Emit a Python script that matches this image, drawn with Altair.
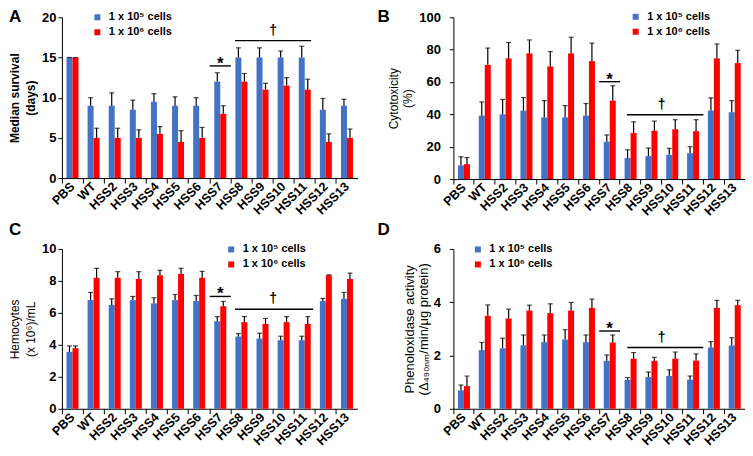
import altair as alt
import pandas as pd

categories = ["PBS", "WT", "HSS2", "HSS3", "HSS4", "HSS5", "HSS6", "HSS7",
              "HSS8", "HSS9", "HSS10", "HSS11", "HSS12", "HSS13"]
series = ["1 x 10⁵ cells", "1 x 10⁶ cells"]
colors = ["#4472C4", "#FF0000"]

# Panel A: median survival (days)
surv_low = [15, 9, 9, 8.5, 9.5, 9, 9, 12, 15, 15, 15, 15, 8.5, 9]
surv_low_sd = [0, 1.0, 1.6, 1.2, 1.0, 1.1, 1.0, 1.1, 1.2, 1.2, 0.8, 1.4, 1.4, 0.8]
surv_high = [15, 5, 5, 5, 5.5, 4.5, 5, 8, 12, 11, 11.5, 11, 4.5, 5]
surv_high_sd = [0, 1.2, 1.2, 1.0, 0.9, 1.4, 1.3, 1.0, 1.0, 0.8, 1.0, 1.3, 1.0, 1.1]

# Panel B: cytotoxicity (%)
cyto_low = [8.5, 39.2, 40, 42.3, 38.1, 38.1, 39.2, 23.1, 13.1, 14.2, 15, 16, 42.3, 41.3]
cyto_low_sd = [5.3, 8.5, 9.2, 8.1, 10.4, 7.3, 7.5, 4.2, 5.0, 5.0, 4.0, 4.0, 7.9, 7.2]
cyto_high = [9.2, 70.6, 74.6, 77.7, 69.6, 77.7, 72.9, 48.5, 28.5, 29.8, 30.8, 29.6, 74.6, 71.7]
cyto_high_sd = [4.1, 10.4, 9.8, 8.3, 9.2, 10.0, 11.1, 9.2, 6.9, 6.0, 5.9, 7.1, 8.9, 7.9]

# Panel C: hemocytes
hemo_low = [3.56, 6.8, 6.5, 6.8, 6.59, 6.8, 6.74, 5.48, 4.52, 4.39, 4.29, 4.29, 6.74, 6.88]
hemo_low_sd = [0.37, 0.48, 0.38, 0.23, 0.36, 0.35, 0.35, 0.29, 0.19, 0.34, 0.25, 0.25, 0.16, 0.40]
hemo_high = [3.79, 8.2, 8.2, 8.12, 8.35, 8.43, 8.2, 6.42, 5.42, 5.31, 5.42, 5.31, 8.35, 8.12]
hemo_high_sd = [0.14, 0.59, 0.38, 0.46, 0.31, 0.36, 0.40, 0.30, 0.35, 0.34, 0.35, 0.46, 0.03, 0.37]

# Panel D: phenoloxidase activity
po_low = [0.69, 2.2, 2.27, 2.38, 2.5, 2.6, 2.5, 1.8, 1.09, 1.19, 1.23, 1.09, 2.3, 2.38]
po_low_sd = [0.20, 0.29, 0.38, 0.39, 0.27, 0.37, 0.27, 0.22, 0.08, 0.19, 0.23, 0.14, 0.22, 0.29]
po_high = [0.85, 3.49, 3.39, 3.69, 3.59, 3.69, 3.79, 2.49, 1.88, 1.8, 1.88, 1.81, 3.79, 3.89]
po_high_sd = [0.38, 0.41, 0.35, 0.20, 0.35, 0.30, 0.33, 0.28, 0.23, 0.13, 0.25, 0.25, 0.28, 0.18]

# significance bars (level in data units)
star_levels = [13.95, 60.2, 7.03, 2.92]
dagger_levels = [17.1, 39.8, 6.23, 2.3]

FONT = "Liberation Sans"


def make_panel(letter, low, low_sd, high, high_sd, ymax, ystep, ytitle,
               star_y, dagger_y, w, h, title_size, title_weight, title_lh,
               title_pad, label_pad, legend_x, legend_y, letter_x, letter_y,
               dag0, dag1):
    n = len(categories)
    df = pd.DataFrame({
        "category": categories + categories,
        "series": [series[0]] * n + [series[1]] * n,
        "value": low + high,
        "upper": [v + s for v, s in zip(low, low_sd)] + [v + s for v, s in zip(high, high_sd)],
    })
    xscale = alt.Scale(domain=categories, paddingInner=0, paddingOuter=0)
    xaxis = alt.Axis(title=None, labelAngle=-45, labelAlign="right",
                     labelBaseline="middle", bandPosition=0,
                     labelFontSize=12.5, labelFontWeight="bold", tickSize=5,
                     labelPadding=1, domainColor="black", tickColor="black",
                     labelColor="black", grid=False)
    yscale = alt.Scale(domain=[0, ymax], nice=False)
    yvals = [ystep * i for i in range(int(round(ymax / ystep)) + 1)]
    yaxis = alt.Axis(title=ytitle, values=yvals, labelFontSize=13,
                     labelFontWeight="bold", tickSize=4, labelPadding=label_pad,
                     domainColor="black", tickColor="black", labelColor="black",
                     titleFontSize=title_size, titleFontWeight=title_weight,
                     titleLineHeight=title_lh, titlePadding=title_pad,
                     titleColor="black", grid=False)

    def X(field, bp=None):
        if bp is None:
            return alt.X(field, type="nominal", sort=categories, scale=xscale, axis=xaxis)
        return alt.X(field, type="nominal", sort=categories, scale=xscale, axis=xaxis, bandPosition=bp)

    def Y(field):
        return alt.Y(field, type="quantitative", scale=yscale, axis=yaxis)

    xoff = alt.XOffset("series:N", sort=series,
                       scale=alt.Scale(domain=series, paddingInner=0, paddingOuter=0.76))

    bars = alt.Chart(df).mark_bar().encode(
        x=X("category"), xOffset=xoff, y=Y("value"),
        color=alt.Color("series:N", sort=series,
                        scale=alt.Scale(domain=series, range=colors),
                        legend=alt.Legend(title=None, orient="none", legendX=legend_x,
                                          legendY=legend_y, symbolType="square",
                                          symbolSize=36, symbolStrokeWidth=0,
                                          labelFontSize=11, labelFontWeight="bold",
                                          labelColor="black", labelOffset=6,
                                          rowPadding=3, padding=0)))
    err = alt.Chart(df).mark_rule(color="black", strokeWidth=1.2).encode(
        x=X("category"), xOffset=xoff, y=Y("value"), y2="upper:Q")
    caps = alt.Chart(df).mark_tick(color="black", size=5, thickness=1.2,
                                   orient="horizontal").encode(
        x=X("category"), xOffset=xoff, y=Y("upper"))

    star_df = pd.DataFrame({"start": ["HSS7"], "end": ["HSS7"], "level": [star_y], "label": ["*"]})
    star_rule = alt.Chart(star_df).mark_rule(color="black", strokeWidth=1.4).encode(
        x=X("start", 0), x2=alt.X2("end", bandPosition=1), y=Y("level"))
    star_text = alt.Chart(star_df).mark_text(fontSize=17, fontWeight="bold", color="black",
                                             baseline="alphabetic", dy=3).encode(
        x=X("start", 0.5), y=Y("level"), text="label:N")

    dag_df = pd.DataFrame({"start": ["HSS8"], "end": ["HSS11"], "mid": ["HSS10"],
                           "level": [dagger_y], "label": ["†"]})
    dag_rule = alt.Chart(dag_df).mark_rule(color="black", strokeWidth=1.4).encode(
        x=X("start", dag0), x2=alt.X2("end", bandPosition=dag1), y=Y("level"))
    dag_text = alt.Chart(dag_df).mark_text(fontSize=14, fontWeight="bold", color="black",
                                           baseline="alphabetic", dy=-6).encode(
        x=X("mid", 0), y=Y("level"), text="label:N")

    letter_mark = alt.Chart(pd.DataFrame({"t": [letter]})).mark_text(
        fontSize=17, fontWeight="bold", color="black", align="left",
        baseline="alphabetic").encode(x=alt.value(letter_x), y=alt.value(letter_y), text="t:N")

    return alt.layer(bars, err, caps, star_rule, star_text, dag_rule, dag_text,
                     letter_mark).properties(width=w, height=h)


pA = make_panel("A", surv_low, surv_low_sd, surv_high, surv_high_sd, 20, 5,
                ["Median survival", "(days)"], star_levels[0], dagger_levels[0],
                296, 161, 12, "bold", 16, 4, 2, 30, -5.5, -53, 5, 0.2, 0.8)
pB = make_panel("B", cyto_low, cyto_low_sd, cyto_high, cyto_high_sd, 100, 20,
                ["Cytotoxicity", "(%)"], star_levels[1], dagger_levels[1],
                292, 162, 12, "normal", 14, 4, 9, 177, -6, -76, 5, 0.33, 1.0)
pC = make_panel("C", hemo_low, hemo_low_sd, hemo_high, hemo_high_sd, 10, 2,
                ["Hemocytes", "(x 10⁶)/mL"], star_levels[2], dagger_levels[2],
                296, 160, 12, "normal", 16, 4, 2, 164, -5, -53, -14, 0.2, 0.9)
pD = make_panel("D", po_low, po_low_sd, po_high, po_high_sd, 6, 2,
                ["Phenoloxidase activity", "(Δ₄₉₀ₙₘ/min/μg protein)"], star_levels[3],
                dagger_levels[3], 292, 160, 13, "normal", 14, 3, 9, 19, -5, -76, -14,
                0.35, 1.0)

top = alt.hconcat(pA, pB, spacing=20).resolve_scale(color="independent").resolve_legend(color="independent")
bottom = alt.hconcat(pC, pD, spacing=20).resolve_scale(color="independent").resolve_legend(color="independent")
chart = alt.vconcat(top, bottom, spacing=3).resolve_scale(
    color="independent").resolve_legend(color="independent").properties(
    padding=0).configure(font=FONT).configure_view(strokeWidth=0)

chart.save("out.html", embed_options={"renderer": "svg", "actions": False})
